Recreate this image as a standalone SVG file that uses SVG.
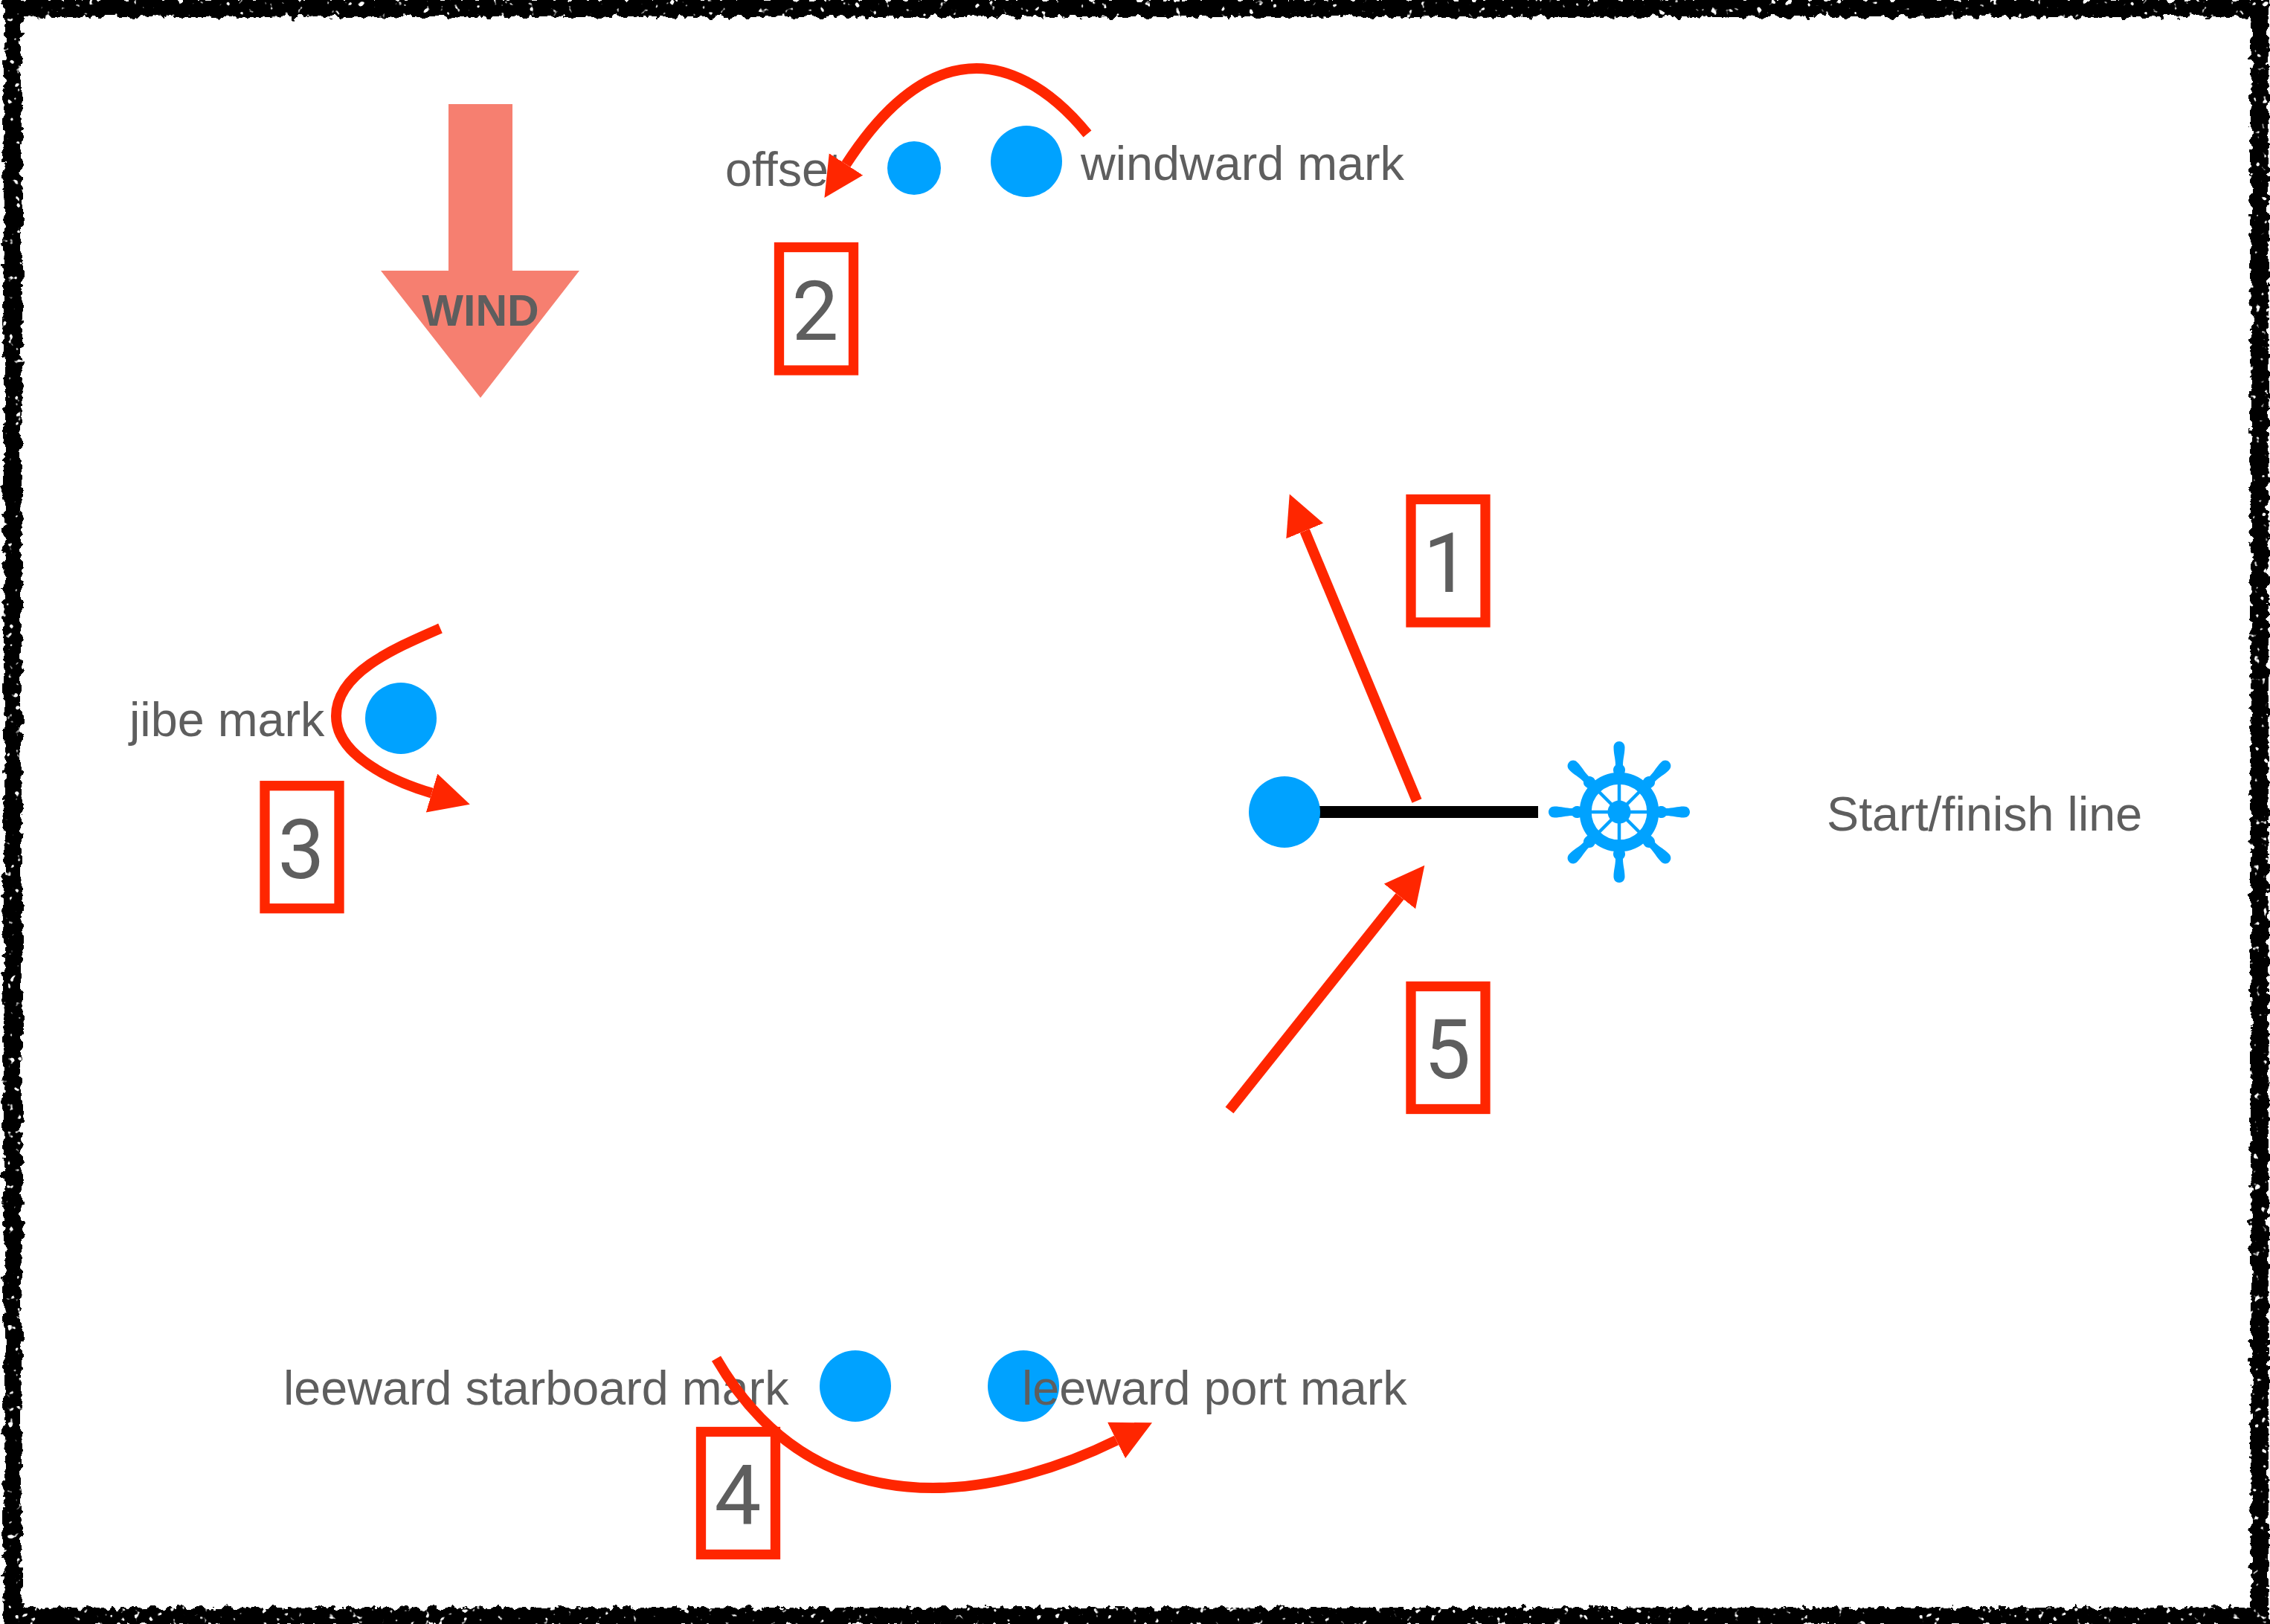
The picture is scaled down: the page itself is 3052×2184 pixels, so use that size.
<svg xmlns="http://www.w3.org/2000/svg" width="3052" height="2184" viewBox="0 0 3052 2184">
<style>
.t{font-family:"Liberation Sans",Arial,sans-serif;font-size:64.7px;fill:#5e5e5e}
.n{font-family:Roboto,"Liberation Sans",Arial,sans-serif;font-size:112px;fill:#5e5e5e;text-anchor:middle}
.a{fill:none;stroke:#ff2600;stroke-width:14;marker-end:url(#h)}
.b{fill:#fff;stroke:#ff2600;stroke-width:13.3}
.m{fill:#00a2ff}
</style>
<defs>
<marker id="h" markerUnits="userSpaceOnUse" markerWidth="60" markerHeight="60" refX="0" refY="27" orient="auto"><path d="M0,0L53.5,27L0,54Z" fill="#ff2600"/></marker>
<filter id="rough" x="-2%" y="-2%" width="104%" height="104%" color-interpolation-filters="sRGB"><feTurbulence type="fractalNoise" baseFrequency="0.08" numOctaves="3" seed="4" result="n"/><feDisplacementMap in="SourceGraphic" in2="n" scale="14" xChannelSelector="R" yChannelSelector="G" result="d"/><feTurbulence type="fractalNoise" baseFrequency="0.1" numOctaves="2" seed="9"/><feColorMatrix type="matrix" values="0 0 0 0 0 0 0 0 0 0 0 0 0 0 0 12 0 0 0 -8.3" result="f"/><feComposite in="d" in2="f" operator="out"/></filter>
<path id="hd" class="m" d="M-6,-50C-7.5,-52 -8,-55 -8,-57C-8,-60 -6,-62 -5,-63C-5,-72 -7.5,-78 -7.5,-87C-7.5,-92 -4,-95 0,-95C4,-95 7.5,-92 7.5,-87C7.5,-78 5,-72 5,-63C6,-62 8,-60 8,-57C8,-55 7.5,-52 6,-50Z"/>
</defs>
<rect width="3052" height="2184" fill="#fff"/>
<g id="border"><rect x="17" y="11" width="3021" height="2163" fill="none" stroke="#000" stroke-width="24" filter="url(#rough)"/></g>
<g id="wind"><path d="M603,140H689V364H779L646,535L512,364H603Z" fill="#f67f70"/><text x="646" y="438" text-anchor="middle" font-family="Liberation Sans,Arial,sans-serif" font-weight="700" font-size="59" fill="#5e5e5e">WIND</text></g>
<g id="offset-mark"><text class="t" x="975" y="250">offset</text><circle class="m" cx="1229" cy="226" r="36"/></g>
<g id="windward-mark"><circle class="m" cx="1380" cy="217" r="48"/><text class="t" x="1453" y="242">windward mark</text></g>
<g id="jibe-mark"><text class="t" x="174" y="990">jibe mark</text><circle class="m" cx="539" cy="966" r="48"/></g>
<g id="leeward-starboard-mark"><text class="t" x="381" y="1889">leeward starboard mark</text><circle class="m" cx="1150" cy="1864" r="48"/></g>
<g id="leeward-port-mark"><circle class="m" cx="1376" cy="1864" r="48"/><text class="t" x="1374" y="1889">leeward port mark</text></g>
<g id="start-line"><rect x="1760" y="1084" width="308" height="16"/><circle class="m" cx="1727" cy="1092" r="48"/></g>
<g id="wheel" transform="translate(2177,1092)">
<circle r="45.3" fill="none" stroke="#00a2ff" stroke-width="16"/><circle class="m" r="15.5"/>
<path d="M0,-40V40M-40,0H40M-28,-28L28,28M-28,28L28,-28" stroke="#00a2ff" stroke-width="4.5"/>
<use href="#hd"/><use href="#hd" transform="rotate(45)"/><use href="#hd" transform="rotate(90)"/><use href="#hd" transform="rotate(135)"/><use href="#hd" transform="rotate(180)"/><use href="#hd" transform="rotate(225)"/><use href="#hd" transform="rotate(270)"/><use href="#hd" transform="rotate(315)"/>
</g>
<text class="t" x="2456" y="1117">Start/finish line</text>
<g id="box-1"><rect class="b" x="1897" y="671.5" width="100" height="165.5"/><text class="n" x="1945" y="796">1</text></g>
<g id="box-2"><rect class="b" x="1047.5" y="332.5" width="100" height="165.5"/><text class="n" x="1096" y="457">2</text></g>
<g id="box-3"><rect class="b" x="356" y="1056.7" width="100" height="165"/><text class="n" x="405" y="1181">3</text></g>
<g id="box-4"><rect class="b" x="942.5" y="1925.5" width="100" height="165"/><text class="n" x="992" y="2049">4</text></g>
<g id="box-5"><rect class="b" x="1897" y="1326.5" width="100" height="165"/><text class="n" x="1946" y="1450">5</text></g>
<g id="connectors">
<path class="a" d="M1905,1077L1754.3,714"/>
<path class="a" d="M1462,180C1405,110 1350,92 1313,92C1245,92 1186,146 1137.5,221"/>
<path class="a" d="M592,845C530,872 452,905 452,963C452,1015 525,1050 580.5,1066.5"/>
<path class="a" d="M963,1827C1020,1925 1110,2001 1255,2001C1340,2001 1430,1972 1501,1937"/>
<path class="a" d="M1653,1493L1882,1205.5"/>
</g>
</svg>
